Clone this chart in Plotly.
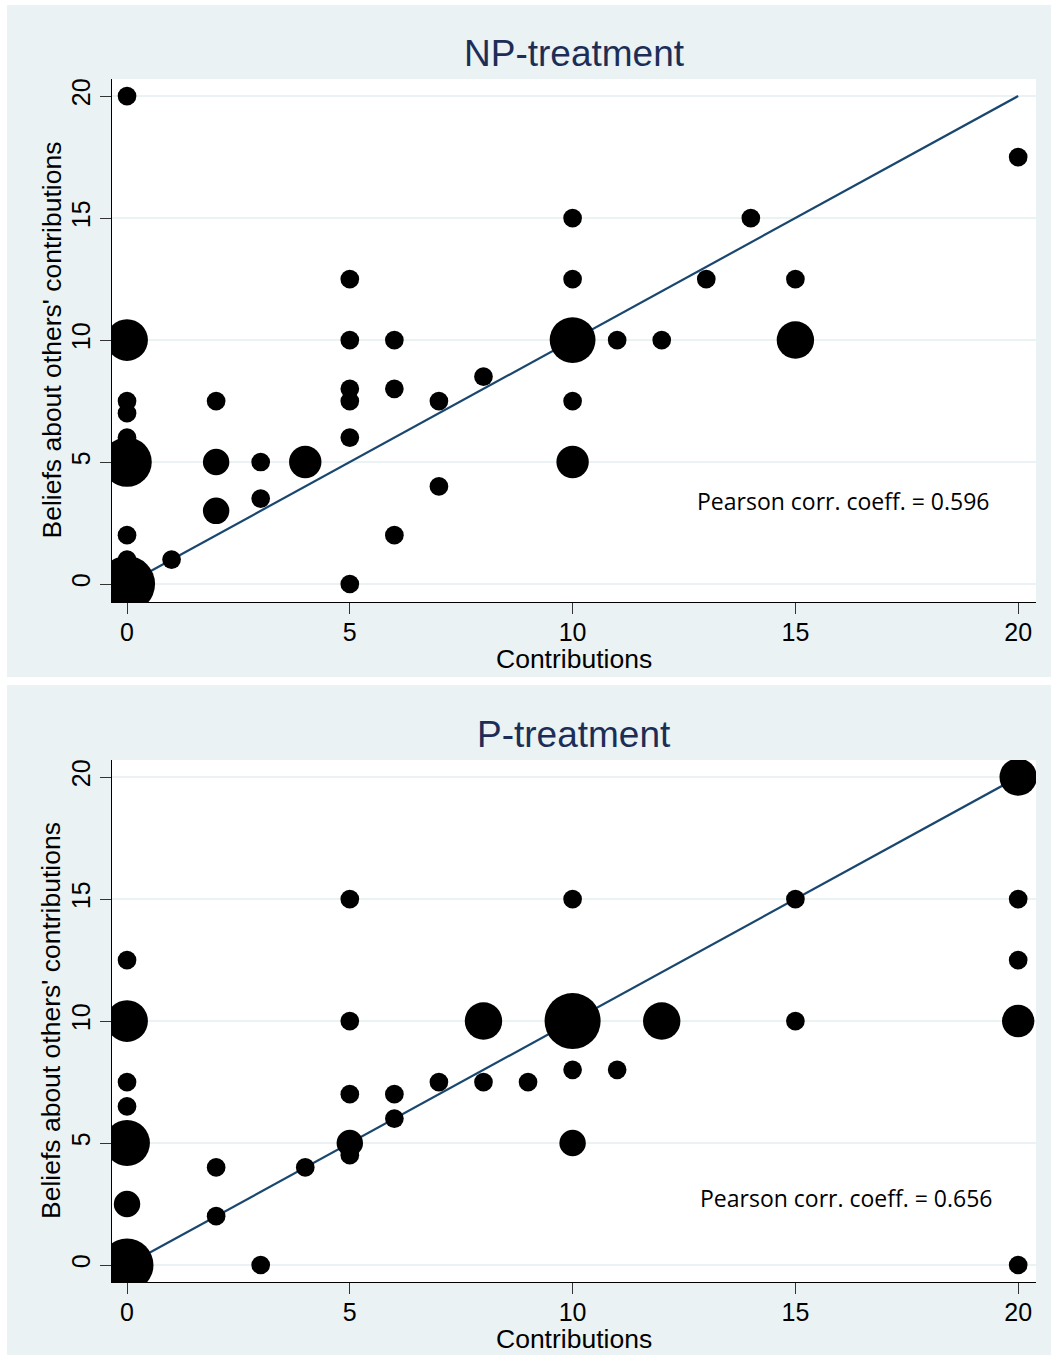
import plotly.graph_objects as go

# ---------------- data ----------------
# NP-treatment: contribution, belief, number of subjects at that point
np_x = [0, 0, 0, 0, 0, 0, 0, 0, 0, 1, 2, 2, 2, 3, 3, 4, 5, 5, 5, 5, 5, 5,
        6, 6, 6, 7, 7, 8, 10, 10, 10, 10, 10, 11, 12, 13, 14, 15, 15, 20]
np_y = [20, 10, 7.5, 7, 6, 5, 2, 1, 0, 1, 7.5, 5, 3, 5, 3.5, 5, 12.5, 10, 8, 7.5, 6, 0,
        10, 8, 2, 7.5, 4, 8.5, 15, 12.5, 10, 7.5, 5, 10, 10, 12.5, 15, 12.5, 10, 17.5]
np_n = [1, 5, 1, 1, 1, 7, 1, 1, 9, 1, 1, 2, 2, 1, 1, 3, 1, 1, 1, 1, 1, 1,
        1, 1, 1, 1, 1, 1, 1, 1, 6, 1, 3, 1, 1, 1, 1, 1, 4, 1]

# P-treatment
p_x = [0, 0, 0, 0, 0, 0, 0, 2, 2, 3, 4, 5, 5, 5, 5, 5, 6, 6, 7, 8, 8, 9,
       10, 10, 10, 10, 11, 12, 15, 15, 20, 20, 20, 20, 20]
p_y = [12.5, 10, 7.5, 6.5, 5, 2.5, 0, 4, 2, 0, 4, 15, 10, 7, 5, 4.5, 7, 6, 7.5, 10, 7.5, 7.5,
       15, 10, 8, 5, 8, 10, 15, 10, 20, 15, 12.5, 10, 0]
p_n = [1, 5, 1, 1, 6, 2, 8, 1, 1, 1, 1, 1, 1, 1, 2, 1, 1, 1, 1, 4, 1, 1,
       1, 9, 1, 2, 1, 4, 1, 1, 4, 1, 1, 3, 1]

# 45-degree reference line
ref_line = [0, 20]

panel_titles = ["NP-treatment", "P-treatment"]
corr_texts = ["Pearson corr. coeff. = 0.596", "Pearson corr. coeff. = 0.656"]
corr_pos = [(16.07, 3.4), (16.14, 2.75)]

tick_vals = [0, 5, 10, 15, 20]
tick_text = ["0", "5", "10", "15", "20"]
x_title = "Contributions"
y_title = "Beliefs about others' contributions"

# ---------------- style ----------------
W, H = 1051, 1355
BG = "#EAF2F3"
LINE_COL = "#1A476F"
TITLE_COL = "#1C2E57"
FONT = "Liberation Sans, Arial, sans-serif"
BASE_D = 18.7  # marker diameter for one subject
sizeref = 2.0 / BASE_D ** 2

def px_x(p):
    return p / W

def px_y(p):
    return 1 - p / H

# pixel geometry of the two plot regions (left, right, top, bottom)
panels = [
    dict(l=112, r=1036, t=79, b=602, title_y=53, xt_y=659),
    dict(l=112, r=1036, t=760, b=1282, title_y=734, xt_y=1339),
]
yranges = [[-0.738, 20.70], [-0.697, 20.70]]
# white gaps around / between the two panel backgrounds (x0, x1, y0, y1) in px
gaps = [(0, 7, 0, 1355), (0, 1051, 0, 5), (0, 1051, 677, 685)]

fig = go.Figure()
data_sets = [(np_x, np_y, np_n), (p_x, p_y, p_n)]
shapes = []
annotations = []

for gx0, gx1, gy0, gy1 in gaps:
    shapes.append(dict(type="rect", xref="paper", yref="paper", layer="below",
                       x0=px_x(gx0), x1=px_x(gx1), y0=px_y(gy1), y1=px_y(gy0),
                       fillcolor="white", line=dict(width=0)))

for i, (xs, ys, ns) in enumerate(data_sets):
    sfx = "" if i == 0 else str(i + 1)
    xa, ya = "x" + sfx, "y" + sfx
    fig.add_trace(go.Scatter(
        x=ref_line, y=ref_line, mode="lines", xaxis=xa, yaxis=ya,
        line=dict(color=LINE_COL, width=2.2), showlegend=False, hoverinfo="skip"))
    fig.add_trace(go.Scatter(
        x=xs, y=ys, mode="markers", xaxis=xa, yaxis=ya,
        marker=dict(size=ns, sizemode="area", sizeref=sizeref, color="black",
                    line=dict(width=0), opacity=1),
        showlegend=False))
    p = panels[i]
    axis_common = dict(showline=True, linecolor="black", linewidth=1.2,
                       ticks="outside", ticklen=11, tickwidth=1.2, tickcolor="#333333",
                       tickvals=tick_vals, ticktext=tick_text, zeroline=False,
                       tickfont=dict(family=FONT, size=25, color="black"))
    fig.layout["xaxis" + sfx] = dict(
        domain=[px_x(p["l"]), px_x(p["r"])], range=[-0.337, 20.40],
        anchor=ya, showgrid=False, ticklabelstandoff=-3, **axis_common)
    fig.layout["yaxis" + sfx] = dict(
        domain=[px_y(p["b"]), px_y(p["t"])], range=yranges[i],
        anchor=xa, showgrid=True, gridcolor=BG, gridwidth=2, tickangle=-90,
        **axis_common)
    cx = (p["l"] + p["r"]) / 2
    annotations.append(dict(text=panel_titles[i], xref="paper", yref="paper",
                            x=px_x(cx), y=px_y(p["title_y"]), showarrow=False,
                            xanchor="center", yanchor="middle",
                            font=dict(family=FONT, size=37, color=TITLE_COL)))
    annotations.append(dict(text=x_title, xref="paper", yref="paper",
                            x=px_x(cx), y=px_y(p["xt_y"]), showarrow=False,
                            xanchor="center", yanchor="middle",
                            font=dict(family=FONT, size=26.5, color="black")))
    annotations.append(dict(text=y_title, xref="paper", yref="paper", textangle=-90,
                            x=px_x(51), y=px_y((p["t"] + p["b"]) / 2), showarrow=False,
                            xanchor="center", yanchor="middle",
                            font=dict(family=FONT, size=26.5, color="black")))
    annotations.append(dict(text=corr_texts[i], xref=xa, yref=ya,
                            x=corr_pos[i][0], y=corr_pos[i][1], showarrow=False,
                            xanchor="center", yanchor="middle",
                            font=dict(family="Open Sans, sans-serif", size=23, color="black")))

fig.update_layout(
    width=W, height=H, margin=dict(l=0, r=0, t=0, b=0, pad=0),
    paper_bgcolor=BG, plot_bgcolor="white",
    shapes=shapes, annotations=annotations, showlegend=False,
)

fig.write_html("out.html", config={"displayModeBar": False},
               post_script="document.body.style.margin='0';document.body.style.overflow='hidden';")
